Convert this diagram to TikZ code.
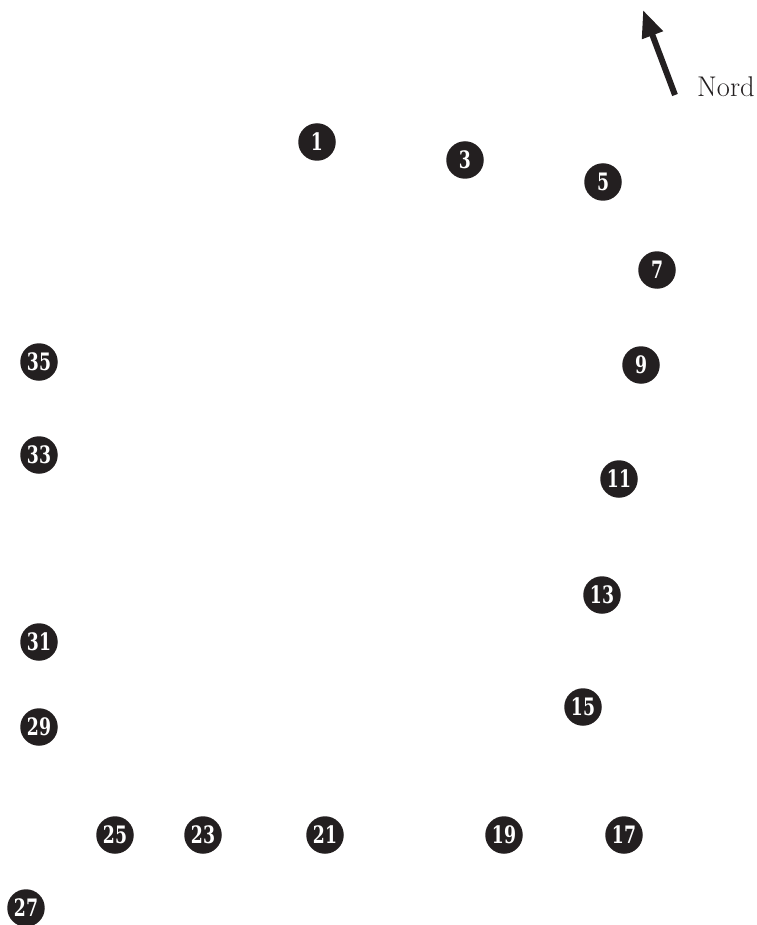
\documentclass[tikz,border=0pt]{standalone}
\usepackage{fontspec}
\usetikzlibrary{arrows.meta}
\newfontfamily\numfont{DejaVu Serif Condensed}
\definecolor{dotblack}{HTML}{231F20}
\begin{document}
\begin{tikzpicture}[x=1pt,y=-1pt,
  spot/.style={circle,fill=dotblack,minimum size=37.5pt,inner sep=0pt,text=white,
    font=\numfont\fontsize{24}{24}\selectfont\bfseries},
  lbl/.style={font=\fontsize{28.5}{28.5}\selectfont,text=dotblack,inner sep=0pt}]
\useasboundingbox (0,0) rectangle (756,925);
\newcommand\dg[1]{\scalebox{0.8}[1]{#1}}
\node[spot] (n1)  at (317,142) {\dg{1}};
\node[spot] (n3)  at (465,160) {\dg{3}};
\node[spot] (n5)  at (603,182) {\dg{5}};
\node[spot] (n7)  at (657,270) {\dg{7}};
\node[spot] (n9)  at (641,365) {\dg{9}};
\node[spot] (n11) at (619,479) {\dg{11}};
\node[spot] (n13) at (602,595) {\dg{13}};
\node[spot] (n15) at (583,707) {\dg{15}};
\node[spot] (n17) at (624,835) {\dg{17}};
\node[spot] (n19) at (504,835) {\dg{19}};
\node[spot] (n21) at (325,835) {\dg{21}};
\node[spot] (n23) at (203,835) {\dg{23}};
\node[spot] (n25) at (115,835) {\dg{25}};
\node[spot] (n27) at (26,908)  {\dg{27}};
\node[spot] (n29) at (39,727)  {\dg{29}};
\node[spot] (n31) at (39,642)  {\dg{31}};
\node[spot] (n33) at (39,455)  {\dg{33}};
\node[spot] (n35) at (39,362)  {\dg{35}};
\coordinate (tail) at (675,95);
\coordinate (tip) at (643,10);
\draw[dotblack,line width=6pt,-{Triangle[length=27pt,width=21pt]}] (tail) -- (tip);
\node[lbl,anchor=base west] (nord) at (697,97) {Nord};
\end{tikzpicture}
\end{document}
